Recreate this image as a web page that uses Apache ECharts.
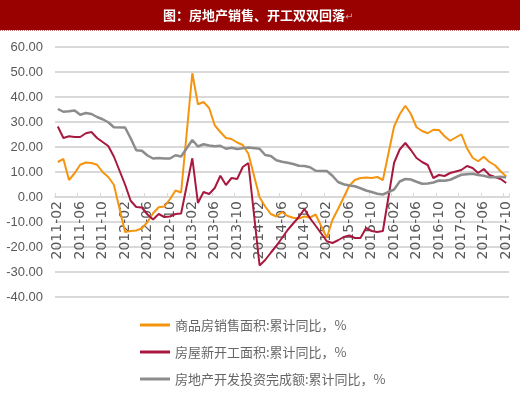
<!DOCTYPE html>
<html>
<head>
<meta charset="utf-8">
<script src="https://cdn.jsdelivr.net/npm/echarts@6/dist/echarts.min.js"></script>
<style>
html,body{margin:0;padding:0;background:#fff;}
#chart{width:520px;height:394px;}
</style>
</head>
<body>
<div id="chart"></div>
<script>
// Month categories (January has no data in cumulative statistics)
var categories = [
  '2011-02','2011-03','2011-04','2011-05','2011-06','2011-07','2011-08','2011-09','2011-10','2011-11','2011-12',
  '2012-01','2012-02','2012-03','2012-04','2012-05','2012-06','2012-07','2012-08','2012-09','2012-10','2012-11','2012-12',
  '2013-01','2013-02','2013-03','2013-04','2013-05','2013-06','2013-07','2013-08','2013-09','2013-10','2013-11','2013-12',
  '2014-01','2014-02','2014-03','2014-04','2014-05','2014-06','2014-07','2014-08','2014-09','2014-10','2014-11','2014-12',
  '2015-01','2015-02','2015-03','2015-04','2015-05','2015-06','2015-07','2015-08','2015-09','2015-10','2015-11','2015-12',
  '2016-01','2016-02','2016-03','2016-04','2016-05','2016-06','2016-07','2016-08','2016-09','2016-10','2016-11','2016-12',
  '2017-01','2017-02','2017-03','2017-04','2017-05','2017-06','2017-07','2017-08','2017-09','2017-10'
];

// 商品房销售面积:累计同比
var salesArea = [
  14.0, 15.2, 6.8, 9.5, 12.9, 13.8, 13.6, 12.9, 10.0, 8.0, 4.9,
  null, -14.0, -13.6, -13.4, -12.5, -10.0, -6.5, -4.1, -3.8, -0.9, 2.6, 1.8,
  null, 49.5, 37.1, 38.0, 35.6, 28.7, 26.0, 23.6, 23.2, 21.8, 20.8, 17.3,
  null, -0.1, -3.8, -6.8, -7.8, -6.0, -7.6, -8.3, -8.6, -7.8, -8.2, -7.0,
  null, -16.3, -9.2, -4.8, -0.2, 4.5, 6.8, 7.6, 7.8, 7.6, 8.0, 6.8,
  null, 28.2, 33.1, 36.5, 33.2, 27.9, 26.4, 25.5, 26.9, 26.8, 24.3, 22.5,
  null, 25.1, 19.5, 15.7, 14.3, 16.1, 14.0, 12.7, 10.3, 8.2
];

// 房屋新开工面积:累计同比
var newStarts = [
  28.2, 23.6, 24.3, 24.0, 24.0, 25.5, 26.0, 23.6, 22.0, 20.4, 16.2,
  null, 5.0, -1.5, -4.0, -4.2, -7.0, -9.0, -6.8, -8.0, -7.8, -6.8, -6.6,
  null, 15.5, -2.4, 2.0, 1.2, 3.6, 8.5, 4.8, 7.6, 7.2, 12.0, 13.6,
  null, -27.4, -25.2, -22.3, -19.5, -16.4, -13.2, -10.6, -8.0, -4.8, -8.5, -11.5,
  null, -17.7, -18.4, -17.3, -16.0, -15.4, -16.4, -16.4, -12.4, -13.6, -14.0, -13.6,
  null, 13.7, 19.0, 21.6, 18.8, 15.6, 14.0, 12.8, 7.6, 8.8, 8.4, 9.6,
  null, 10.8, 12.4, 11.6, 9.6, 11.2, 8.8, 8.0, 7.2, 5.6
];

// 房地产开发投资完成额:累计同比
var investment = [
  35.2, 34.1, 34.3, 34.6, 32.9, 33.6, 33.2, 32.0, 31.1, 29.9, 27.9,
  null, 27.8, 23.5, 18.7, 18.5, 16.6, 15.4, 15.6, 15.4, 15.4, 16.7, 16.2,
  null, 22.8, 20.2, 21.1, 20.6, 20.3, 20.5, 19.3, 19.7, 19.2, 19.5, 19.8,
  null, 19.3, 16.8, 16.4, 14.7, 14.1, 13.7, 13.2, 12.5, 12.4, 11.9, 10.5,
  null, 10.4, 8.5, 6.0, 5.1, 4.6, 4.3, 3.5, 2.6, 2.0, 1.3, 1.0,
  null, 3.0, 6.2, 7.2, 7.0, 6.1, 5.3, 5.4, 5.8, 6.6, 6.5, 6.9,
  null, 8.9, 9.1, 9.3, 8.8, 8.5, 7.9, 7.9, 8.1, 7.8
];

var seriesNames = ['商品房销售面积:累计同比，%', '房屋新开工面积:累计同比，%', '房地产开发投资完成额:累计同比，%'];
var titleText = '图：房地产销售、开工双双回落';

var chart = echarts.init(document.getElementById('chart'), null, {renderer: 'canvas'});
var colors = ['#F5940F', '#A8193F', '#8C8C8C'];

chart.setOption({
  animation: false,
  backgroundColor: '#ffffff',
  color: colors,
  graphic: [
    {type: 'rect', left: 0, top: 0, shape: {width: 520, height: 30}, style: {fill: '#990000'}, z: 0},
    {type: 'line', shape: {x1: 0, y1: 30.5, x2: 520, y2: 30.5}, style: {stroke: '#C87070', lineWidth: 1, lineDash: [1, 1]}},
    {type: 'text', x: 163, y: 15, style: {
      text: '{a|' + titleText + '}{b|↵}',
      verticalAlign: 'middle',
      rich: {
        a: {fill: '#ffffff', fontSize: 13, fontWeight: 'bold', fontFamily: 'Noto Sans CJK SC'},
        b: {fill: '#C8A0A0', fontSize: 10, fontFamily: 'DejaVu Sans', padding: [4, 0, 0, 0]}
      }
    }}
  ],
  grid: {left: 55, right: 11, top: 47, height: 250, containLabel: false},
  legend: {
    orient: 'vertical',
    left: 140,
    top: 318,
    padding: 0,
    itemWidth: 30,
    itemHeight: 3,
    itemGap: 13,
    icon: 'rect',
    textStyle: {color: '#666666', fontSize: 13, fontFamily: 'Noto Sans CJK SC', lineHeight: 14},
    data: seriesNames
  },
  xAxis: {
    type: 'category',
    data: categories,
    boundaryGap: true,
    offset: -100,
    axisLine: {onZero: false, lineStyle: {color: '#D9D9D9', width: 2}},
    axisTick: {show: true, interval: 3, inside: true, length: 4, lineStyle: {color: '#D9D9D9', width: 1}},
    axisLabel: {rotate: 90, interval: 3, color: '#595959', fontSize: 14, fontFamily: 'DejaVu Sans', margin: 4}
  },
  yAxis: {
    type: 'value',
    min: -40,
    max: 60,
    interval: 10,
    axisLine: {show: false},
    axisTick: {show: false},
    splitLine: {lineStyle: {color: '#D9D9D9', width: 2}},
    axisLabel: {color: '#595959', fontSize: 13, fontFamily: 'Liberation Sans', margin: 12,
      formatter: function (v) { return v.toFixed(2); }}
  },
  series: [
    {name: seriesNames[0], type: 'line', data: salesArea, connectNulls: true, symbol: 'none', lineStyle: {width: 2}},
    {name: seriesNames[1], type: 'line', data: newStarts, connectNulls: true, symbol: 'none', lineStyle: {width: 2}},
    {name: seriesNames[2], type: 'line', data: investment, connectNulls: true, symbol: 'none', lineStyle: {width: 2.5}}
  ]
});
</script>
</body>
</html>
